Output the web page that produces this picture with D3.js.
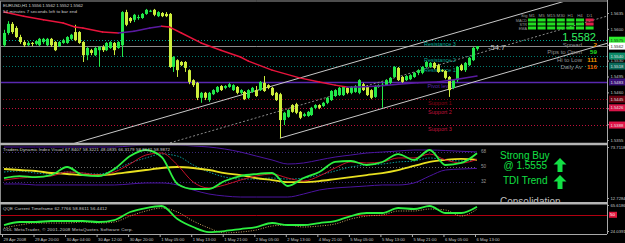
<!DOCTYPE html>
<html>
<head>
<meta charset="utf-8">
<script src="https://cdn.jsdelivr.net/npm/d3@7"></script>
<style>
html, body { margin: 0; padding: 0; background: #000; }
svg { display: block; }
text { font-family: "Liberation Sans", Arial, sans-serif; }
</style>
</head>
<body>
<svg width="625" height="243"></svg>
<script>
// EURUSD H1 bars: [open, high, low, close]
var ohlc = [
  [1.5564,1.5598,1.5560,1.5591],[1.5591,1.5617,1.5587,1.5611],[1.5611,1.5615,1.5589,1.5593],[1.5602,1.5606,1.5580,1.5582],
  [1.5582,1.5587,1.5567,1.5571],[1.5571,1.5575,1.5560,1.5564],[1.5564,1.5573,1.5562,1.5569],[1.5569,1.5571,1.5562,1.5567],
  [1.5567,1.5575,1.5564,1.5573],[1.5564,1.5580,1.5562,1.5578],[1.5571,1.5580,1.5567,1.5578],[1.5564,1.5580,1.5562,1.5578],
  [1.5578,1.5580,1.5560,1.5564],[1.5571,1.5573,1.5551,1.5553],[1.5562,1.5573,1.5560,1.5571],[1.5569,1.5578,1.5567,1.5575],
  [1.5569,1.5584,1.5567,1.5582],[1.5578,1.5589,1.5575,1.5587],[1.5593,1.5609,1.5573,1.5575],[1.5593,1.5595,1.5567,1.5569],
  [1.5571,1.5573,1.5527,1.5542],[1.5542,1.5560,1.5531,1.5558],[1.5553,1.5556,1.5542,1.5547],[1.5542,1.5560,1.5540,1.5558],
  [1.5553,1.5562,1.5516,1.5560],[1.5560,1.5564,1.5549,1.5553],[1.5553,1.5571,1.5551,1.5569],[1.5558,1.5573,1.5556,1.5571],
  [1.5569,1.5571,1.5542,1.5553],[1.5558,1.5573,1.5556,1.5571],[1.5564,1.5639,1.5538,1.5637],[1.5637,1.5642,1.5606,1.5609],
  [1.5624,1.5626,1.5613,1.5617],[1.5620,1.5633,1.5615,1.5631],[1.5624,1.5631,1.5620,1.5626],[1.5624,1.5635,1.5622,1.5633],
  [1.5633,1.5644,1.5631,1.5642],[1.5639,1.5642,1.5637,1.5640],[1.5642,1.5644,1.5628,1.5631],[1.5628,1.5639,1.5626,1.5637],
  [1.5635,1.5637,1.5626,1.5628],[1.5633,1.5637,1.5626,1.5628],[1.5633,1.5635,1.5514,1.5516],[1.5516,1.5540,1.5505,1.5538],
  [1.5531,1.5533,1.5494,1.5509],[1.5527,1.5529,1.5518,1.5520],[1.5527,1.5529,1.5505,1.5514],[1.5509,1.5511,1.5478,1.5483],
  [1.5487,1.5489,1.5472,1.5476],[1.5481,1.5483,1.5443,1.5448],[1.5448,1.5461,1.5437,1.5459],[1.5459,1.5461,1.5443,1.5448],
  [1.5443,1.5461,1.5439,1.5459],[1.5456,1.5467,1.5454,1.5465],[1.5461,1.5474,1.5459,1.5472],[1.5474,1.5476,1.5463,1.5465],
  [1.5470,1.5476,1.5467,1.5474],[1.5472,1.5481,1.5470,1.5478],[1.5465,1.5478,1.5463,1.5476],[1.5472,1.5474,1.5456,1.5459],
  [1.5459,1.5467,1.5456,1.5465],[1.5461,1.5463,1.5443,1.5445],[1.5448,1.5467,1.5445,1.5465],[1.5461,1.5472,1.5459,1.5470],
  [1.5465,1.5474,1.5450,1.5452],[1.5465,1.5485,1.5463,1.5483],[1.5481,1.5496,1.5461,1.5463],[1.5476,1.5478,1.5467,1.5470],
  [1.5470,1.5472,1.5452,1.5454],[1.5459,1.5461,1.5441,1.5443],[1.5456,1.5459,1.5359,1.5399],[1.5399,1.5417,1.5388,1.5415],
  [1.5406,1.5423,1.5404,1.5421],[1.5432,1.5434,1.5415,1.5417],[1.5434,1.5437,1.5412,1.5415],[1.5417,1.5419,1.5401,1.5404],
  [1.5408,1.5415,1.5406,1.5412],[1.5408,1.5419,1.5406,1.5417],[1.5410,1.5428,1.5408,1.5426],[1.5426,1.5434,1.5423,1.5432],
  [1.5432,1.5434,1.5423,1.5426],[1.5430,1.5439,1.5428,1.5437],[1.5437,1.5450,1.5434,1.5448],[1.5443,1.5465,1.5441,1.5463],
  [1.5452,1.5467,1.5450,1.5465],[1.5454,1.5472,1.5452,1.5470],[1.5454,1.5474,1.5452,1.5472],[1.5470,1.5472,1.5456,1.5459],
  [1.5459,1.5474,1.5456,1.5472],[1.5461,1.5476,1.5459,1.5474],[1.5459,1.5489,1.5456,1.5487],[1.5478,1.5481,1.5463,1.5465],
  [1.5474,1.5476,1.5452,1.5454],[1.5465,1.5467,1.5445,1.5448],[1.5450,1.5476,1.5448,1.5474],[1.5472,1.5478,1.5470,1.5476],
  [1.5476,1.5481,1.5426,1.5477],[1.5476,1.5489,1.5474,1.5487],[1.5481,1.5494,1.5478,1.5492],[1.5494,1.5518,1.5492,1.5516],
  [1.5514,1.5516,1.5485,1.5487],[1.5494,1.5496,1.5481,1.5483],[1.5487,1.5498,1.5485,1.5496],[1.5489,1.5500,1.5487,1.5498],
  [1.5494,1.5505,1.5492,1.5503],[1.5503,1.5511,1.5498,1.5509],[1.5503,1.5518,1.5500,1.5516],[1.5516,1.5529,1.5514,1.5527],
  [1.5516,1.5527,1.5514,1.5525],[1.5525,1.5527,1.5511,1.5514],[1.5520,1.5523,1.5503,1.5505],[1.5509,1.5511,1.5505,1.5507],
  [1.5507,1.5509,1.5489,1.5492],[1.5494,1.5496,1.5450,1.5465],[1.5470,1.5489,1.5467,1.5487],[1.5487,1.5518,1.5483,1.5516],
  [1.5520,1.5523,1.5507,1.5509],[1.5509,1.5527,1.5505,1.5525],[1.5520,1.5538,1.5518,1.5536],[1.5531,1.5560,1.5529,1.5558],
  [1.5556,1.5562,1.5552,1.5562]
];

var timeLabels = ['29 Apr 2008','29 Apr 20:00','30 Apr 04:00','30 Apr 12:00','30 Apr 20:00','1 May 05:00','1 May 13:00','1 May 21:00',
  '2 May 05:00','2 May 13:00','4 May 21:00','5 May 05:00','5 May 13:00','5 May 21:00','6 May 05:00','6 May 13:00'];
var labelBars = [0,8,16,24,32,40,48,56,64,72,80,88,96,104,112,120];

var priceTicks = [1.5635,1.5600,1.5565,1.5530,1.5495,1.5460,1.5425,1.5390,1.5355];
var bid = 1.5562;

// moving average
var maBars = [0,5,10,15,18,20,25,29,33,37,40,42,45,50,55,60,62,68,75,80,84,87,90,95,100,105,110,115,120];
var maValues = [1.5637,1.5628,1.5620,1.5613,1.5604,1.5602,1.5593,1.5591,1.5595,1.5602,1.5606,1.5604,1.5591,1.5569,1.5553,
  1.5538,1.5529,1.5509,1.5492,1.5483,1.5476,1.5472,1.5472,1.5474,1.5478,1.5481,1.5483,1.5489,1.5496];

// pivot levels
var pivotNames = ['Resistance 3','Resistance 2','Resistance 1','Pivot level','Support 1','Support 2','Support 3'];
var pivotValues = [1.5575,1.5540,1.5518,1.5483,1.5445,1.5426,1.5388];
var pivotColors = ['#00a892','#007a70','#007a70','#5a28b0','#8a0014','#c0103c','#c0103c'];
var pivotBoxColors = ['#2cf02c','#0c8a68','#0a6a5a','#3a1078','#6a0010','#d81448','#e01448'];

// regression channel: lower line anchors (bar, price) and width
var channelBars = [70,120];
var channelLow = [1.5359,1.5485];
var channelWidth = 0.0120;

// Traders Dynamic Index
var tdiBars = [0,4,8,12,16,20,24,28,32,36,40,44,48,52,56,60,64,68,72,76,80,84,88,92,96,100,104,108,112,116,120];
var tdiRsi = [36.6,39.0,37.8,40.2,49.8,40.2,39.0,47.4,62.9,70.1,61.7,29.5,23.5,23.5,33.1,39.0,41.4,42.6,27.1,36.6,43.8,55.8,57.0,52.2,55.8,65.3,58.2,70.1,52.2,54.6,66.3];
var tdiSignal = [34.2,36.6,37.8,39.0,43.8,42.6,40.2,43.8,53.4,64.1,66.5,52.2,31.8,24.7,28.3,34.2,39.0,41.4,36.6,33.0,39.0,48.6,55.8,54.6,55.8,60.6,60.6,65.3,58.2,54.6,58.9];
var tdiBase = [47.4,46.2,45.0,42.6,41.4,40.2,40.2,41.4,43.8,46.2,48.6,49.8,48.6,46.2,42.6,40.2,36.6,34.2,31.8,31.8,33.0,35.4,37.8,40.2,42.6,46.2,51.0,55.8,58.2,59.4,58.3];
var tdiUpper = [73.7,73.7,73.7,73.7,73.7,73.7,73.7,73.7,74.9,76.1,76.1,76.1,74.9,73.7,71.3,67.7,62.9,58.2,53.4,54.6,58.2,61.7,64.1,66.5,67.7,68.9,70.1,70.1,69.5,68.6,67.8];
var tdiLower = [29.5,29.5,28.3,28.3,28.3,28.3,28.3,28.3,29.5,30.7,30.7,28.3,22.3,17.5,15.1,13.9,13.9,13.9,13.9,17.5,22.3,24.7,25.9,27.1,28.3,28.3,30.7,39.0,46.2,47.4,48.1];
var tdiMid = [43.8,45.0,42.6,41.4,43.8,42.6,41.4,46.2,54.6,60.6,65.3,62.9,52.2,43.8,37.8,35.4,35.4,36.6,35.4,36.6,40.2,45.0,49.8,52.2,53.4,55.8,57.0,60.6,58.2,57.0,59.0];
var tdiLevels = [68,50,32];

// QQE
var qqeFast = [33.6,38.4,38.4,40.0,40.0,40.0,38.4,41.6,54.4,60.8,64.0,43.2,30.4,22.4,24.0,27.2,30.4,36.8,33.6,33.6,36.8,40.0,48.0,52.8,52.8,60.8,59.2,64.0,52.8,52.8,62.8];
var qqeSlow = [28.8,33.6,36.8,36.8,36.8,38.4,36.8,38.4,48.0,56.0,60.8,54.4,40.0,28.8,20.8,22.4,25.6,32.0,33.6,30.4,32.0,35.2,43.2,48.0,49.6,56.0,56.0,59.2,57.6,48.0,58.9];

// info panel
var tfNames = ['M1','M5','M15','M30','H1','H4','D1'];
var rowNames = ['MACD','STR','EMA'];
var signalGrid = [
  [1,1,1,1,1,1,0],
  [1,1,1,1,1,1,0],
  [1,1,1,1,1,1,1]
];
var infoNames = ['Spread','Pips to Open','Hi to Low','Daily Av'];
var infoValues = ['2','59','111','116'];
var infoColors = ['#f08c00','#22e022','#f09a00','#f06a00'];

var svg = d3.select('svg');
var W = 625, axisX = 607;
var gray = '#a8a8a8';
var txt = '#d0d0d0';

var x = d3.scaleLinear().domain([0, 120]).range([4, 477]);
var yP = d3.scaleLinear().domain([1.5355, 1.5635]).range([140, 13]);
var yT = d3.scaleLinear().domain([12.7284, 73.7118]).range([198, 147]);
var yQ = d3.scaleLinear().domain([24.0391, 65.6186]).range([231, 205]);

svg.append('rect').attr('width', W).attr('height', 243).attr('fill', '#000');

var defs = svg.append('defs');
function clip(id, y0, y1) {
    defs.append('clipPath').attr('id', id).append('rect')
        .attr('x', 1).attr('y', y0).attr('width', axisX - 1).attr('height', y1 - y0);
    return svg.append('g').attr('clip-path', 'url(#' + id + ')');
}
var gMain = clip('cMain', 2, 143);
var gTdi = clip('cTdi', 145.5, 202);
var gQqe = clip('cQqe', 204.5, 233.5);

// ---- main chart ----
gMain.selectAll('line.pivot')
    .data(pivotValues)
    .enter().append('line')
    .attr('x1', 0).attr('x2', axisX)
    .attr('y1', function (d) { return Math.round(yP(d)) + 0.5; })
    .attr('y2', function (d) { return Math.round(yP(d)) + 0.5; })
    .attr('stroke', function (d, i) { return pivotColors[i]; })
    .attr('stroke-dasharray', function (d, i) { return i == 3 ? null : '1,2'; })
    .attr('stroke-width', function (d, i) { return i == 3 ? 1.4 : 1; });

gMain.append('line')
    .attr('x1', 0).attr('x2', axisX)
    .attr('y1', Math.round(yP(bid)) + 0.5).attr('y2', Math.round(yP(bid)) + 0.5)
    .attr('stroke', '#8c8c8c');

// channel lines
var slope = (channelLow[1] - channelLow[0]) / (channelBars[1] - channelBars[0]);
function chan(b, off) { return channelLow[0] + (b - channelBars[0]) * slope + off; }
[[-30, channelWidth, null], [-30, channelWidth / 2, '2,2'], [channelBars[0], 0, null]].forEach(function (c) {
    gMain.append('line')
        .attr('x1', x(c[0])).attr('y1', yP(chan(c[0], c[1])))
        .attr('x2', x(170)).attr('y2', yP(chan(170, c[1])))
        .attr('stroke', c[2] ? '#8a8a8a' : '#c8c8c8')
        .attr('stroke-dasharray', c[2]);
});

gMain.selectAll('text.pivot')
    .data(pivotNames)
    .enter().append('text')
    .attr('x', 440)
    .attr('y', function (d, i) { return yP(pivotValues[i]) + 6; })
    .attr('text-anchor', 'middle')
    .attr('font-size', '5.5px')
    .attr('fill', function (d, i) { return pivotColors[i] == '#007a70' ? '#00a090' : pivotColors[i]; })
    .text(function (d) { return d; });

// candles
var bull = '#22e84a', bear = '#cdee3c';
var candle = gMain.selectAll('g.bar')
    .data(ohlc)
    .enter().append('g');
candle.append('line')
    .attr('x1', function (d, i) { return Math.round(x(i)) + 0.5; })
    .attr('x2', function (d, i) { return Math.round(x(i)) + 0.5; })
    .attr('y1', function (d) { return yP(d[1]); })
    .attr('y2', function (d) { return yP(d[2]); })
    .attr('stroke', function (d) { return d[3] >= d[0] ? bull : bear; });
candle.append('rect')
    .attr('x', function (d, i) { return Math.round(x(i)) - 1; })
    .attr('width', 3)
    .attr('y', function (d) { return yP(Math.max(d[0], d[3])); })
    .attr('height', function (d) { return Math.max(1, Math.abs(yP(d[0]) - yP(d[3]))); })
    .attr('fill', function (d) { return d[3] >= d[0] ? bull : bear; });

// moving average, red while falling, purple while rising
var maPts = maBars.map(function (b, i) { return [b, maValues[i]]; });
gMain.selectAll('line.ma')
    .data(maPts.slice(1))
    .enter().append('line')
    .attr('x1', function (d, i) { return x(maPts[i][0]); })
    .attr('y1', function (d, i) { return yP(maPts[i][1]); })
    .attr('x2', function (d) { return x(d[0]); })
    .attr('y2', function (d) { return yP(d[1]); })
    .attr('stroke', function (d, i) { return d[1] < maPts[i][1] ? '#e8143c' : '#5a1aa0'; })
    .attr('stroke-width', 1.5)
    .attr('stroke-linecap', 'round');

svg.append('text').attr('x', 488).attr('y', 50)
    .attr('font-size', '7.5px').attr('fill', '#c4c4c4').text('-54.7');

// signal grid
svg.selectAll('text.tf')
    .data(tfNames)
    .enter().append('text')
    .attr('x', function (d, i) { return 532 + i * 9.6; })
    .attr('y', 17).attr('text-anchor', 'middle')
    .attr('font-size', '4.4px').attr('fill', '#9a9a9a')
    .text(function (d) { return d; });
svg.append('text').attr('x', 521).attr('y', 17).attr('font-size', '4.4px').attr('fill', '#9a9a9a').text('Sig');
svg.selectAll('text.row')
    .data(rowNames)
    .enter().append('text')
    .attr('x', 527).attr('y', function (d, i) { return 21.5 + i * 4; })
    .attr('text-anchor', 'end')
    .attr('font-size', '3.8px').attr('fill', '#9a9a9a')
    .text(function (d) { return d; });
signalGrid.forEach(function (row, r) {
    svg.selectAll('rect.s' + r)
        .data(row)
        .enter().append('rect')
        .attr('x', function (d, i) { return 528 + i * 9.6; })
        .attr('y', 18.5 + r * 4)
        .attr('width', 8).attr('height', 3)
        .attr('fill', function (d) { return d ? '#22e022' : '#e0204a'; });
});

svg.append('text').attr('x', 596).attr('y', 40.5)
    .attr('text-anchor', 'end').attr('font-size', '11px').attr('fill', '#30f060')
    .text(d3.format('.4f')(1.5582));

svg.selectAll('text.infoName')
    .data(infoNames)
    .enter().append('text')
    .attr('x', 582).attr('y', function (d, i) { return 46.5 + i * 7.6; })
    .attr('text-anchor', 'end').attr('font-size', '6px').attr('fill', '#909090')
    .text(function (d) { return d; });
svg.selectAll('text.infoVal')
    .data(infoValues)
    .enter().append('text')
    .attr('x', 597).attr('y', function (d, i) { return 46.5 + i * 7.6; })
    .attr('text-anchor', 'end').attr('font-size', '6.2px').attr('font-weight', 'bold')
    .attr('fill', function (d, i) { return infoColors[i]; })
    .text(function (d) { return d; });

svg.append('text').attr('x', 3).attr('y', 7).attr('font-size', '4.4px').attr('fill', txt)
    .attr('textLength', 80).text('EURUSD,H1  1.5556 1.5562 1.5552 1.5562');
svg.append('text').attr('x', 3).attr('y', 12.5).attr('font-size', '4.4px').attr('fill', txt)
    .attr('textLength', 74).text('54 minutes 7 seconds left to bar end');

// ---- TDI ----
var tline = d3.line()
    .x(function (d) { return x(d[0]); })
    .y(function (d) { return yT(d[1]); })
    .curve(d3.curveMonotoneX);
function pts(vals) { return tdiBars.map(function (b, i) { return [b, vals[i]]; }); }

gTdi.selectAll('line.lvl')
    .data(tdiLevels)
    .enter().append('line')
    .attr('x1', 0).attr('x2', x(120))
    .attr('y1', function (d) { return Math.round(yT(d)) + 0.5; })
    .attr('y2', function (d) { return Math.round(yT(d)) + 0.5; })
    .attr('stroke', function (d) { return d == 50 ? '#6a6a6a' : '#3c2a7a'; })
    .attr('stroke-dasharray', '1,2');
gTdi.selectAll('text.lvl')
    .data(tdiLevels)
    .enter().append('text')
    .attr('x', x(120) + 4).attr('y', function (d) { return yT(d) + 1.6; })
    .attr('font-size', '4.6px').attr('fill', '#9a9a9a')
    .text(function (d) { return d; });

[[tdiUpper, '#4c14a0', 1, null], [tdiLower, '#4c14a0', 1, null], [tdiMid, '#0a9a9a', 1, '1.5,1.5'],
 [tdiBase, '#e8e020', 1.8, null], [tdiSignal, '#c8102a', 1, null], [tdiRsi, '#2cf040', 1.8, null]].forEach(function (s) {
    gTdi.append('path')
        .attr('d', tline(pts(s[0])))
        .attr('fill', 'none')
        .attr('stroke', s[1]).attr('stroke-width', s[2])
        .attr('stroke-dasharray', s[3]);
});

svg.append('text').attr('x', 3).attr('y', 151).attr('font-size', '4.4px').attr('fill', txt)
    .attr('textLength', 167).text('Traders Dynamic Index Visual 67.8407 58.3221 48.0835 66.3179 58.8642 58.9872');

var green = '#12e044';
svg.append('text').attr('x', 500).attr('y', 159).attr('font-size', '10px').attr('fill', green).text('Strong Buy');
svg.append('text').attr('x', 547).attr('y', 169).attr('text-anchor', 'end').attr('font-size', '10px').attr('fill', green).text('@ 1.5555');
svg.append('text').attr('x', 503).attr('y', 183.5).attr('font-size', '10px').attr('fill', green).text('TDI Trend');
gTdi.append('text').attr('x', 500).attr('y', 205).attr('font-size', '10px').attr('fill', '#bdbdbd').text('Consolidation');
[158, 175].forEach(function (ty) {
    var cx = 560;
    svg.append('path')
        .attr('d', 'M' + cx + ',' + ty + 'L' + (cx + 6.5) + ',' + (ty + 6.5) + 'L' + (cx + 2.5) + ',' + (ty + 6.5) +
            'L' + (cx + 2.5) + ',' + (ty + 14) + 'L' + (cx - 2.5) + ',' + (ty + 14) + 'L' + (cx - 2.5) + ',' + (ty + 6.5) +
            'L' + (cx - 6.5) + ',' + (ty + 6.5) + 'Z')
        .attr('fill', green);
});

// ---- QQE ----
var qline = d3.line()
    .x(function (d) { return x(d[0]); })
    .y(function (d) { return yQ(d[1]); })
    .curve(d3.curveMonotoneX);
gQqe.append('line')
    .attr('x1', 0).attr('x2', axisX)
    .attr('y1', Math.round(yQ(50)) + 0.5).attr('y2', Math.round(yQ(50)) + 0.5)
    .attr('stroke', '#b00010');
gQqe.append('path').attr('d', qline(pts(qqeSlow)))
    .attr('fill', 'none').attr('stroke', '#c8a060').attr('stroke-dasharray', '1,1.5');
gQqe.append('path').attr('d', qline(pts(qqeFast)))
    .attr('fill', 'none').attr('stroke', '#2cf040').attr('stroke-width', 1.8);

svg.append('text').attr('x', 3).attr('y', 209.5).attr('font-size', '4.4px').attr('fill', txt)
    .attr('textLength', 104).text('QQE Current Timeframe 62.7766 58.8611 56.4412');
svg.append('text').attr('x', 3).attr('y', 231).attr('font-size', '4.4px').attr('fill', txt)
    .attr('textLength', 130).text('ODL MetaTrader, \u00a9 2001-2008 MetaQuotes Software Corp.');

// ---- frames ----
svg.append('line').attr('x1', 0).attr('x2', axisX).attr('y1', 1).attr('y2', 1).attr('stroke', '#9a9a9a');
svg.append('line').attr('x1', 0.5).attr('x2', 0.5).attr('y1', 1).attr('y2', 234).attr('stroke', '#8a8a8a');
svg.append('line').attr('x1', 0).attr('x2', axisX).attr('y1', 144).attr('y2', 144).attr('stroke', '#b4b4b4').attr('stroke-width', 2.4);
svg.append('line').attr('x1', 0).attr('x2', axisX).attr('y1', 203.3).attr('y2', 203.3).attr('stroke', '#b4b4b4').attr('stroke-width', 2.4);

// right price axis
function rightAxis(scale, vals, fmt) {
    var g = svg.append('g')
        .attr('transform', 'translate(' + axisX + ',0)')
        .call(d3.axisRight(scale).tickValues(vals).tickFormat(d3.format(fmt)).tickSize(2).tickPadding(1.5));
    g.select('.domain').remove();
    g.selectAll('line').attr('stroke', gray);
    g.selectAll('text').attr('fill', '#c8c8c8').attr('font-size', '4.2px').attr('font-family', '"Liberation Sans", Arial, sans-serif');
}
rightAxis(yP, priceTicks, '.4f');
rightAxis(yT, [73.7118, 12.7284], '.4f');
rightAxis(yQ, [65.6186, 24.0391], '.4f');

svg.append('line').attr('x1', axisX + 0.5).attr('x2', axisX + 0.5).attr('y1', 0).attr('y2', 234).attr('stroke', gray);

var boxes = pivotValues.concat([bid]);
var boxColors = pivotBoxColors.concat(['#ffffff']);
svg.selectAll('rect.box')
    .data(boxes)
    .enter().append('rect')
    .attr('x', axisX + 2).attr('width', W - axisX - 2)
    .attr('y', function (d) { return yP(d) - 3.5; })
    .attr('height', 7)
    .attr('fill', function (d, i) { return boxColors[i]; });
svg.selectAll('text.box')
    .data(boxes)
    .enter().append('text')
    .attr('x', axisX + 3.5).attr('y', function (d) { return yP(d) + 1.6; })
    .attr('font-size', '4.2px')
    .attr('fill', function (d, i) { return i == 0 || i == 7 ? '#202020' : '#e0e0e0'; })
    .text(function (d) { return d3.format('.4f')(d); });

svg.append('rect').attr('x', axisX + 2).attr('width', 8).attr('y', yQ(50) - 3).attr('height', 6).attr('fill', '#e0143c');
svg.append('text').attr('x', axisX + 3).attr('y', yQ(50) + 1.6).attr('font-size', '4.4px').attr('fill', '#fff').text('50');

// time axis
var xa = svg.append('g')
    .attr('transform', 'translate(-2,234)')
    .call(d3.axisBottom(x).tickValues(labelBars).tickFormat(function (d, i) { return timeLabels[i]; })
        .tickSize(3).tickPadding(1));
xa.select('.domain').attr('stroke', gray).attr('d', 'M2,0.5H' + (axisX + 2));
xa.selectAll('line').attr('stroke', gray);
xa.selectAll('text')
    .attr('text-anchor', 'start').attr('x', 1)
    .attr('fill', '#c8c8c8').attr('font-size', '4.2px')
    .attr('font-family', '"Liberation Sans", Arial, sans-serif');
</script>
</body>
</html>
